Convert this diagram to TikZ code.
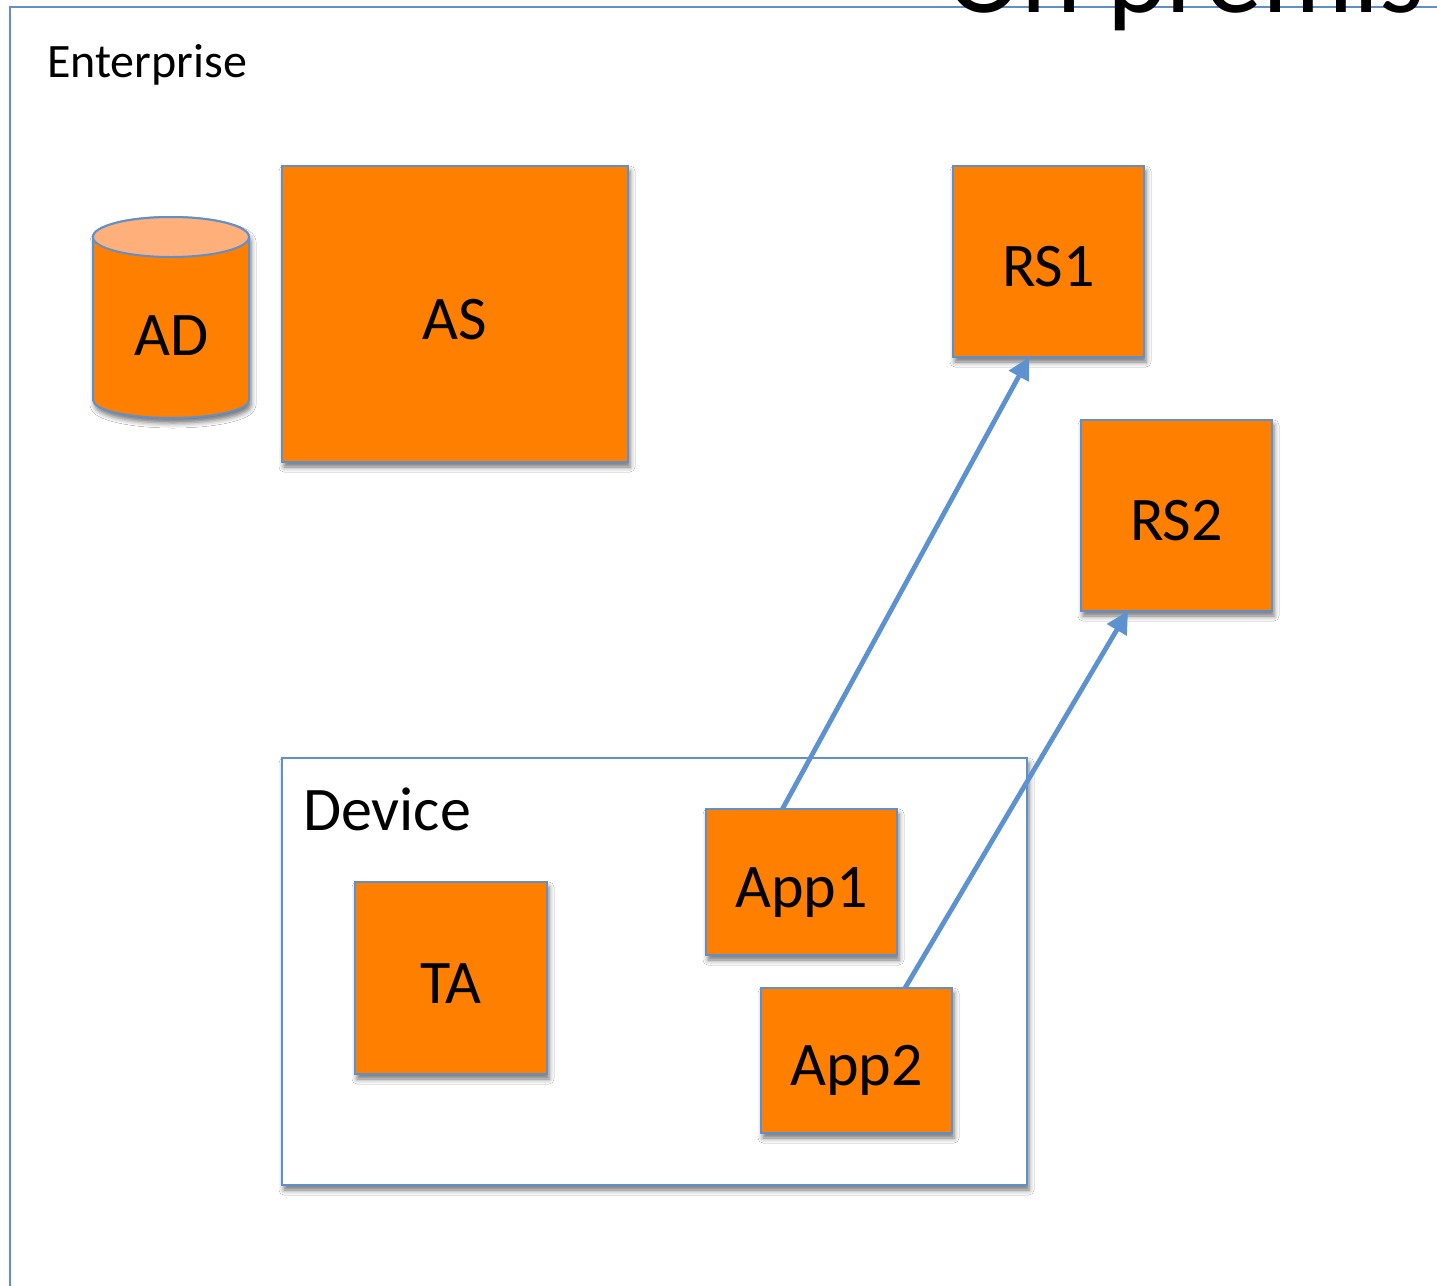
\documentclass[tikz,border=0pt]{standalone}
\usepackage{fontspec}
\setmainfont{Carlito}
\usetikzlibrary{shadows.blur,arrows.meta,calc}

\definecolor{boxorange}{RGB}{255,127,0}
\definecolor{caporange}{RGB}{255,176,122}
\definecolor{edgeblue}{RGB}{96,144,204}
\definecolor{arrowblue}{RGB}{92,146,208}

\tikzset{
  softshadow/.style={blur shadow={shadow xshift=1pt, shadow yshift=-2.5pt,
      shadow blur radius=2.5pt, shadow opacity=55}},
  unit/.style={draw=edgeblue, line width=1pt, fill=boxorange,
      inner sep=0pt, outer sep=0pt, softshadow,
      font=\fontsize{31}{37}\selectfont, text height=25pt, text depth=0pt},
  frame/.style={draw=edgeblue, line width=1pt, inner sep=0pt, outer sep=0pt},
  caption/.style={anchor=base west, inner sep=0pt, outer sep=0pt},
  flow/.style={draw=arrowblue, line width=2.4pt,
      -{Triangle[length=11pt, width=11pt]}},
}

\begin{document}
\begin{tikzpicture}[x=0.5pt, y=-0.5pt]
  \path[use as bounding box, clip] (0,0) rectangle (1437,1286);
  \fill[white] (0,0) rectangle (1437,1286);

  % enterprise boundary
  \node[frame, anchor=north west, minimum width=800pt, minimum height=700pt]
    (enterprise) at (10,7) {};
  \node[caption, font=\fontsize{24}{29}\selectfont] (entlabel) at (47,77) {Enterprise};
  \node[caption, font=\fontsize{57}{68}\selectfont] (title) at (946,12) {On premis};

  % directory store (cylinder)
  \path[fill=boxorange, draw=edgeblue, line width=1pt, softshadow]
    (93,237) -- (93,400) arc[start angle=180, end angle=360, x radius=39pt, y radius=9pt]
    -- (249,237) arc[start angle=0, end angle=180, x radius=39pt, y radius=10pt] -- cycle;
  \draw[fill=caporange, draw=edgeblue, line width=1pt]
    (171,237) ellipse[x radius=39pt, y radius=10pt];
  \node[font=\fontsize{31}{37}\selectfont, text height=25pt, text depth=0pt, inner sep=0pt]
    (ad) at (172,330) {AD};

  % servers
  \node[unit, minimum width=173pt, minimum height=148pt] (as) at (455,314) {AS};
  \node[unit, minimum width=95.5pt, minimum height=95.5pt] (rs1) at (1048.5,261.5) {RS1};
  \node[unit, minimum width=95.5pt, minimum height=95.5pt] (rs2) at (1176.5,515.5) {RS2};

  % device
  \node[frame, fill=white, softshadow, minimum width=372.5pt, minimum height=213.5pt]
    (device) at (654.5,971.5) {};
  \node[caption, font=\fontsize{31}{37}\selectfont] (devlabel) at (303,830) {Device};
  \node[unit, minimum width=96pt, minimum height=96pt] (ta) at (451,978) {TA};
  \node[unit, minimum width=95.5pt, minimum height=73pt] (app1) at (801.5,882) {App1};
  \node[unit, minimum width=95.5pt, minimum height=72.5pt] (app2) at (856.5,1060.5) {App2};

  % requests
  \draw[flow] ($(app1.north west)!0.40!(app1.north east)$) -- ($(rs1.south west)!0.40!(rs1.south east)$);
  \draw[flow] ($(app2.north west)!0.754!(app2.north east)$) -- ($(rs2.south west)!0.246!(rs2.south east)$);
\end{tikzpicture}
\end{document}
